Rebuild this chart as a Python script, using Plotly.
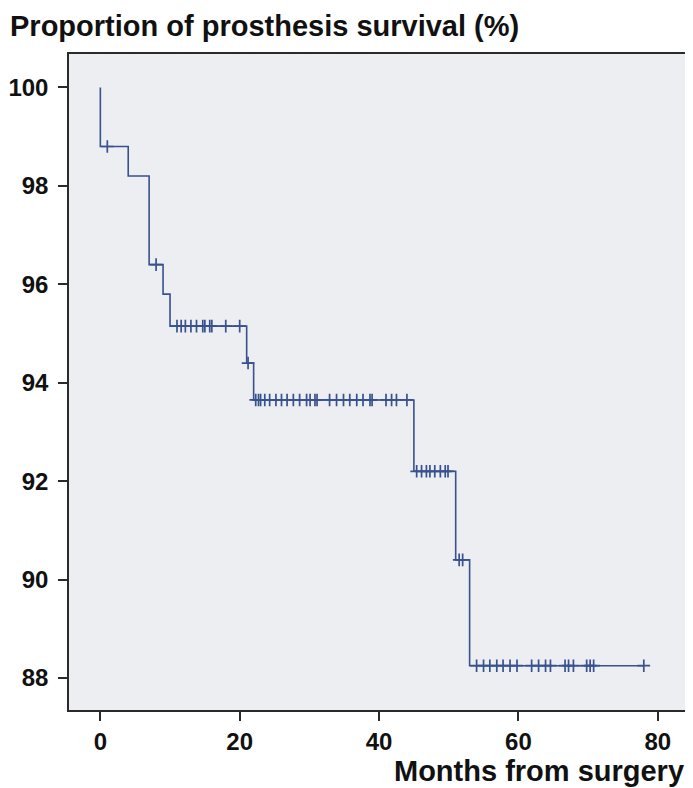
import numpy as np
import plotly.graph_objects as go

# Kaplan-Meier step data (months, survival %)
event_times = [0, 4, 7, 9, 10, 21, 22, 45, 51, 53]
survival = [98.8, 98.2, 96.4, 95.8, 95.15, 94.4, 93.65, 92.2, 90.4, 88.25]
start_value = 100
last_followup = 78

# censored observations (months)
censor_times = [1, 8,
                11, 11.6, 12.2, 13, 13.8, 14.7, 15, 15.7, 16, 18, 20,
                21.2,
                22.3, 22.7, 23, 23.6, 24.3, 25.2, 26, 26.8, 27.7, 28.6, 29.6, 30.1, 30.8, 31.1,
                32.9, 33.9, 34.9, 35.8, 36.8, 37.7, 38.7, 39, 41, 41.8, 42.5, 44,
                45.4, 46.1, 46.8, 47.3, 48, 48.8, 49.5, 49.9,
                51.5, 52,
                54, 55, 55.9, 56.9, 57.8, 58.8, 59.8, 61.9, 62.9, 63.9, 64.6,
                66.7, 67.2, 67.9, 69.8, 70.3, 70.8, 78]

x_ticks = [0, 20, 40, 60, 80]
y_ticks = [88, 90, 92, 94, 96, 98, 100]

line_color = "#37528f"

step_x = [0] + event_times + [last_followup]
step_y = [start_value] + survival + [survival[-1]]


def surv_at(t):
    s = start_value
    for et, sv in zip(event_times, survival):
        if t >= et:
            s = sv
    return s


censor_y = [surv_at(t) for t in censor_times]

fig = go.Figure()
fig.add_trace(go.Scatter(x=step_x, y=step_y, mode="lines", line_shape="hv",
                         line=dict(color=line_color, width=1.6), hoverinfo="skip"))
fig.add_trace(go.Scatter(x=censor_times, y=censor_y, mode="markers",
                         marker=dict(symbol="cross-thin", size=9,
                                     line=dict(color=line_color, width=1.7)),
                         hoverinfo="skip"))

font_family = "Liberation Sans, Arial, Helvetica, sans-serif"
frame = "#2a2a2a"
text_color = "#111111"

fig.update_layout(
    width=685, height=780,
    margin=dict(l=61, r=6, t=46, b=78),
    paper_bgcolor="white",
    plot_bgcolor="#eceef1",
    showlegend=False,
    font=dict(family=font_family, color=text_color),
)
fig.update_xaxes(range=[-4.5, 84.2], tickvals=x_ticks, ticks="outside", ticklen=9,
                 tickwidth=1.5, tickcolor=frame, showgrid=False, zeroline=False,
                 showline=True, linecolor=frame, linewidth=1.5, mirror=True,
                 automargin=False,
                 tickfont=dict(size=24, family=font_family, color=text_color, weight="bold"))
fig.update_yaxes(range=[87.35, 100.68], tickvals=y_ticks, ticks="outside", ticklen=9,
                 tickwidth=1.5, tickcolor=frame, showgrid=False, zeroline=False,
                 showline=True, linecolor=frame, linewidth=1.5, mirror=True,
                 automargin=False, ticklabelstandoff=5,
                 tickfont=dict(size=24, family=font_family, color=text_color, weight="bold"))

fig.add_annotation(text="Proportion of prosthesis survival (%)", xref="paper", yref="paper",
                   x=-0.0987, y=1.0701, xanchor="left", yanchor="top", showarrow=False,
                   font=dict(size=29, family=font_family, color=text_color, weight="bold"))
fig.add_annotation(text="Months from surgery", xref="paper", yref="paper",
                   x=0.998, y=-0.093, xanchor="right", yanchor="middle", showarrow=False,
                   font=dict(size=29, family=font_family, color=text_color, weight="bold"))

fig.write_html("out.html")
